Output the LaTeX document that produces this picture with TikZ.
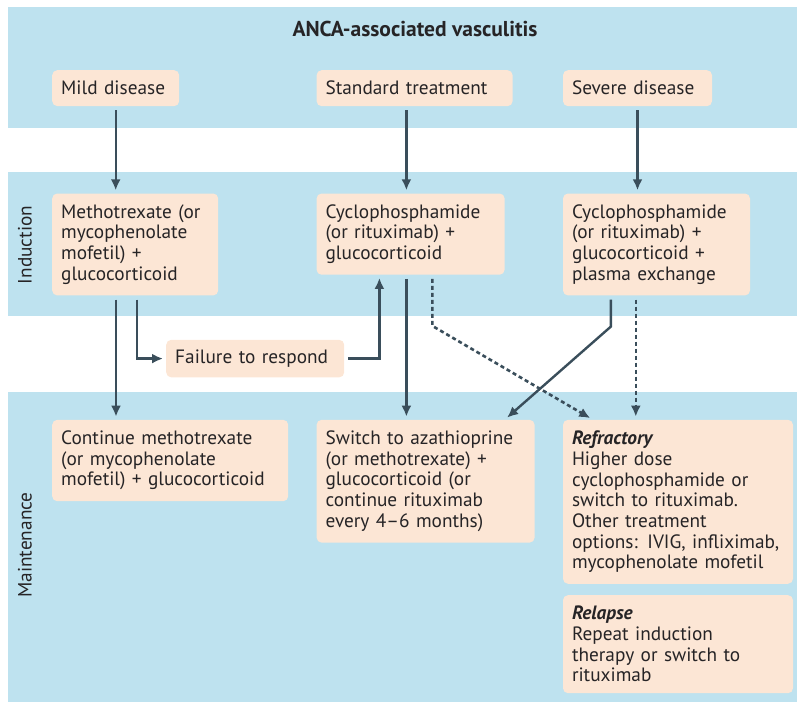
\documentclass[tikz,border=0pt]{standalone}
\usepackage{fontspec}
\setmainfont{PT Sans}
\usetikzlibrary{arrows.meta, positioning}
\definecolor{bandblue}{RGB}{190,226,239}
\definecolor{boxpeach}{RGB}{252,230,213}
\definecolor{arrowgrey}{RGB}{58,78,91}
\definecolor{textgrey}{RGB}{38,36,38}
\tikzset{band/.style = {fill = bandblue},
	 box/.style = {fill = boxpeach, rounded corners = 5pt,
		       align = left, text = textgrey,
		       inner xsep = 9pt, inner ysep = 11pt,
		       font = \fontsize{19.3}{20.7}\selectfont},
	 phase/.style = {rotate = 90, text = textgrey,
			 font = \fontsize{19.3}{20.7}\selectfont},
	 flow/.style = {->, draw = arrowgrey, line width = 2.4pt,
			shorten <= 4pt, shorten >= 3pt},
	 maybe/.style = {flow, line width = 2.6pt,
			 dash pattern = on 4pt off 3pt}}

\begin{document}
\begin{tikzpicture}[x = 1pt, y = 1pt,
		    >= {Latex[length = 11pt, width = 10pt]}]
      \useasboundingbox (0, 0) rectangle (797, -702);
      % the three phases
      \fill [band] (8, -7) rectangle (797, -128);
      \fill [band] (8, -172) rectangle (797, -316);
      \fill [band] (8, -392) rectangle (797, -702);
      \node [font = \bfseries\fontsize{21.5}{24}\selectfont, text = textgrey]
	    (title) at (415, -29) {ANCA-associated vasculitis};
      \node [phase] (induction) at (25, -245) {Induction};
      \node [phase] (maintenance) at (25, -545) {Maintenance};
      % disease
      \node [box, text width = 109pt, anchor = north west] (mild)
	    at (52, -70) {Mild disease};
      \node [box, text width = 178pt, right = 137pt of mild.north east,
	     anchor = north west] (standard) {Standard treatment};
      \node [box, text width = 131pt, right = 50pt of standard.north east,
	     anchor = north west] (severe) {Severe disease};
      % induction
      \node [box, text width = 148pt, below = 87pt of mild.south west,
	     anchor = north west] (mtx)
	    {Methotrexate (or\\ mycophenolate\\ mofetil) +\\ glucocorticoid};
      \node [box, text width = 170pt, right = 98pt of mtx.north east,
	     anchor = north west] (cyc)
	    {Cyclophosphamide\\ (or rituximab) +\\ glucocorticoid};
      \node [box, text width = 169pt, right = 58pt of cyc.north east,
	     anchor = north west] (cycpe)
	    {Cyclophosphamide\\ (or rituximab) +\\ glucocorticoid +\\
	     plasma exchange};
      \node [box, text width = 160pt, inner ysep = 10pt,
	     below right = 44pt and 114pt of mtx.south west]
	    (fail) {Failure to respond};
      % maintenance
      \node [box, text width = 218pt, below = 124pt of mtx.south west,
	     anchor = north west] (cont)
	    {Continue methotrexate\\ (or mycophenolate\\ mofetil) + glucocorticoid};
      \node [box, text width = 200pt, right = 28pt of cont.north east,
	     anchor = north west] (switch)
	    {Switch to azathioprine\\ (or methotrexate) +\\ glucocorticoid (or\\
	     continue rituximab\\ every 4--6 months)};
      \node [box, text width = 212pt, right = 28pt of switch.north east,
	     anchor = north west] (refr)
	    {\textbf{\textit{Refractory}}\\ Higher dose\\ cyclophosphamide or\\
	     switch to rituximab.\\ Other treatment\\
	     options: IVIG, infliximab,\\ mycophenolate mofetil};
      \node [box, text width = 212pt, below = 11pt of refr.south west,
	     anchor = north west] (relapse)
	    {\textbf{\textit{Relapse}}\\ Repeat induction\\ therapy or switch to\\
	     rituximab};
      % where the arrows leave
      \coordinate (stdout) at ([xshift = 90pt] standard.south west);
      \coordinate (cycout) at ([xshift = 90pt] cyc.south west);
      \coordinate (cycin) at ([xshift = 63pt] cyc.south west);
      \coordinate (cycdash) at ([xshift = 116pt] cyc.south west);
      \coordinate (mtxout) at ([xshift = 64pt] mtx.south west);
      \coordinate (mtxfail) at ([xshift = 85pt] mtx.south west);
      \coordinate (pelow) at ([xshift = 48pt] cycpe.south west);
      \coordinate (pedot) at ([xshift = 73pt] cycpe.south west);
      \draw [flow] (mild.south) -- (mild.south |- mtx.north);
      \draw [flow] (stdout) -- (stdout |- cyc.north);
      \draw [flow] (severe.south) -- (severe.south |- cycpe.north);
      \draw [flow] (mtxout) -- (mtxout |- cont.north);
      \draw [flow] (mtxfail) |- (fail);
      \draw [flow] (fail) -| (cycin);
      \draw [flow] (cycout) -- (cycout |- switch.north);
      \draw [flow] (pelow) -- ++(0, -31) -- ([xshift = -30pt] switch.north east);
      \draw [maybe] (cycdash) -- ++(0, -51) -- ([xshift = 30pt] refr.north west);
      \draw [maybe] (pedot) -- (pedot |- refr.north);
\end{tikzpicture}
\end{document}
